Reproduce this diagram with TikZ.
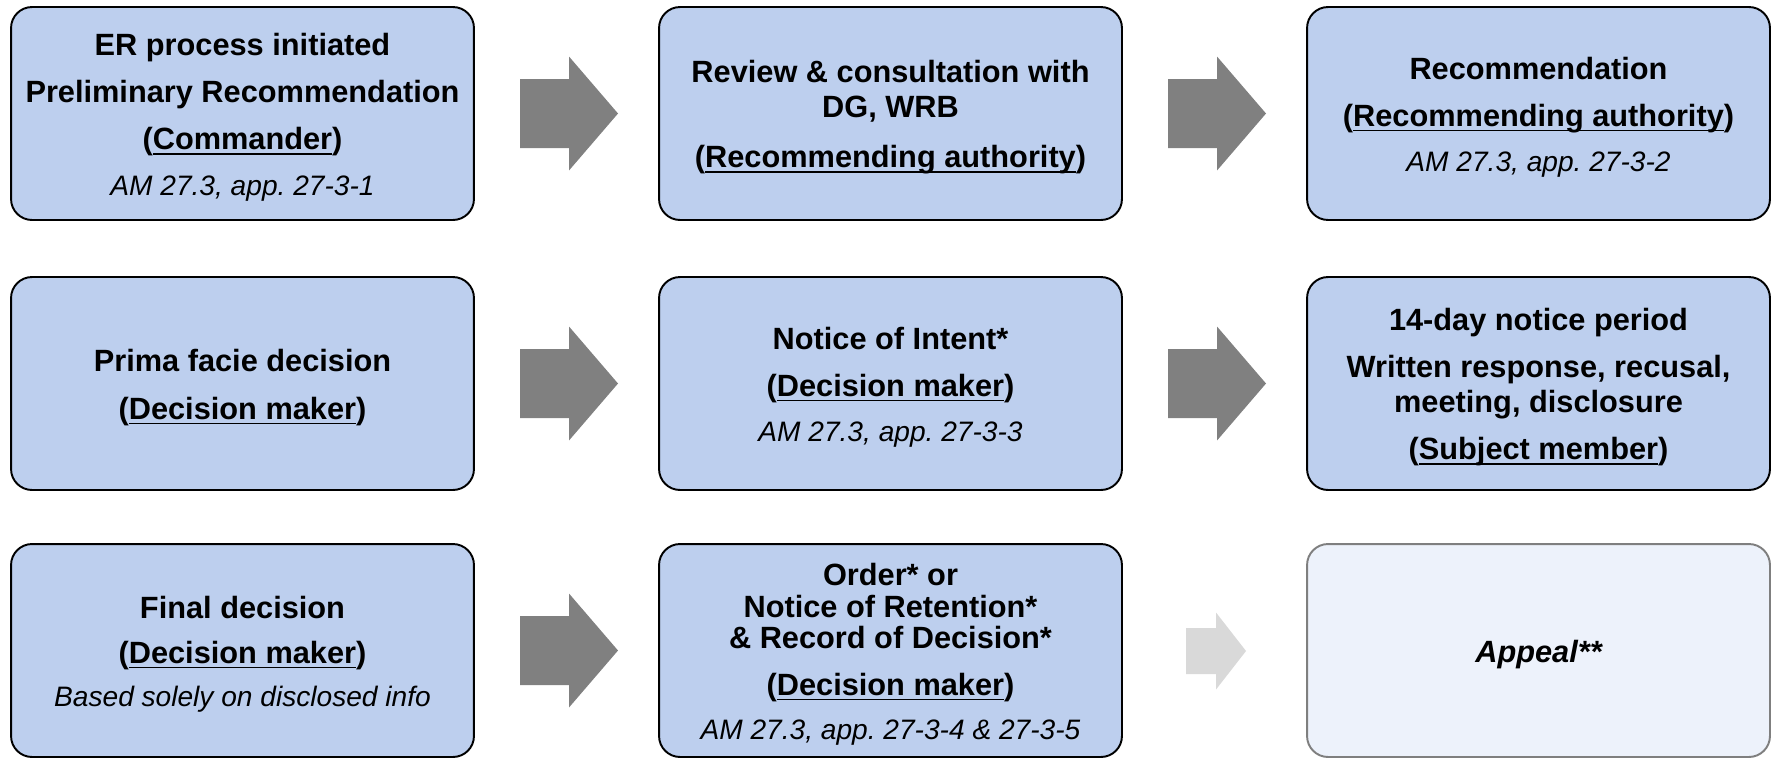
\documentclass[tikz,border=0pt]{standalone}
\usepackage{fontspec}
\setmainfont{Liberation Sans}
\usepackage{xcolor}
\definecolor{boxblue}{RGB}{189,207,238}
\definecolor{appealfill}{RGB}{237,242,251}
\definecolor{appealline}{RGB}{127,127,127}
\definecolor{arrowdark}{RGB}{128,128,128}
\definecolor{arrowlight}{RGB}{217,217,217}
% underlined role, rule at a fixed depth
\newcommand{\role}[1]{\sbox0{#1}\rlap{\rule[-2.8pt]{\wd0}{0.9pt}}\usebox0}
\newcommand{\amref}[1]{{\fontsize{16}{19.35}\selectfont\mdseries\itshape\frenchspacing #1}}
% taller first line, pushes the text block down a little
\newcommand{\lift}{\rule{0pt}{17pt}}

\begin{document}
\begin{tikzpicture}[x=0.02cm,y=-0.02cm,
  stage/.style={draw,line width=1.1pt,rounded corners=0.42cm,fill=boxblue,
    minimum width=9.26cm,minimum height=4.26cm,inner sep=0pt,align=center,
    font=\fontsize{17.5}{19.8}\selectfont\bfseries}]
\useasboundingbox (0,0) rectangle (1773,758);
% row 1
\node[stage] (init) at (242.5,113.5) {\lift ER process initiated\\[7pt]
Preliminary Recommendation\\[7pt](\role{Commander})\\[6pt]
\amref{AM 27.3, app. 27-3-1}};
\node[stage] (review) at (890.5,113.5) {\lift Review \& consultation with\\
DG, WRB\\[9pt](\role{Recommending authority})};
\node[stage] (recom) at (1538.5,113.5) {\lift Recommendation\\[7pt]
(\role{Recommending authority})\\[6pt]\amref{AM 27.3, app. 27-3-2}};
% row 2
\node[stage] (prima) at (242.5,383.5) {\lift Prima facie decision\\[7.5pt]
(\role{Decision maker})};
\node[stage] (intent) at (890.5,383.5) {\lift Notice of Intent*\\[7pt]
(\role{Decision maker})\\[6pt]\amref{AM 27.3, app. 27-3-3}};
\node[stage] (notice) at (1538.5,383.5) {\lift 14-day notice period\\[7pt]
Written response, recusal,\\meeting, disclosure\\[7pt]
(\role{Subject member})};
% row 3
\node[stage] (final) at (242.5,650.5) {\lift Final decision\\[6pt]
(\role{Decision maker})\\[5pt]\amref{Based solely on disclosed info}};
\node[stage] (order) at (890.5,650.5) {\lift Order* or\\[-2pt]Notice of Retention*\\[-2pt]
\& Record of Decision*\\[7pt](\role{Decision maker})\\[5pt]
\amref{AM 27.3, app. 27-3-4 \& 27-3-5}};
\node[stage,draw=appealline,fill=appealfill] (appeal) at (1538.5,650.5)
  {\lift\itshape Appeal**};
% block arrows
\foreach \x/\y in {520/113.5,1168/113.5,520/383.5,1168/383.5,520/650.5}
  \fill[arrowdark] (\x,\y-34.5) -- ++(49,0) -- ++(0,-22.5) -- ++(49,57)
    -- ++(-49,57) -- ++(0,-22.5) -- ++(-49,0) -- cycle;
\fill[arrowlight] (1186,628) -- ++(30,0) -- ++(0,-15.5) -- ++(30,38.5)
  -- ++(-30,38.5) -- ++(0,-15.5) -- ++(-30,0) -- cycle;
\end{tikzpicture}
\end{document}
